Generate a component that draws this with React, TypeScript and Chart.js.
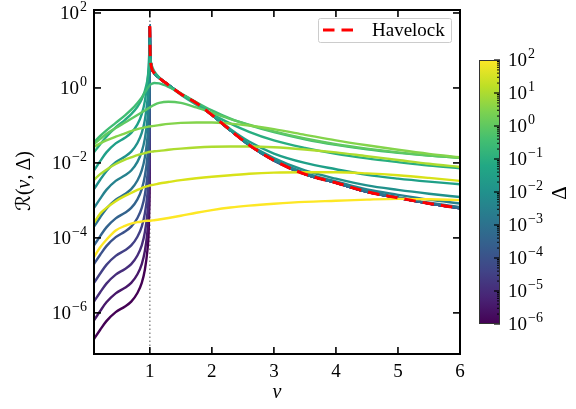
import React, { useEffect, useRef } from 'react';
import { Chart, registerables } from 'chart.js';

Chart.register(...registerables);

const W = 576;
const H = 409;

// ---------- axes ----------
const X_MIN = 0.1;
const X_MAX = 6;
const Y_MIN = 8e-8;
const Y_MAX = 1.2e2;
const X_TICKS = [1, 2, 3, 4, 5, 6];
const Y_TICK_EXPONENTS = [2, 0, -2, -4, -6];
const CB_TICK_EXPONENTS = [2, 1, 0, -1, -2, -3, -4, -5, -6];
const CB_MIN_EXP = -6;
const CB_MAX_EXP = 2;

// ---------- data ----------
const V = [0.1, 0.2, 0.3, 0.45, 0.6, 0.7, 0.8, 0.87, 0.92, 0.96, 0.98, 0.99, 0.997, 1.0, 1.003, 1.01, 1.03, 1.07, 1.15, 1.3, 1.5, 1.75, 2.0, 2.3, 2.6, 3.0, 3.5, 4.0, 4.5, 5.0, 5.5, 6.0];

// Havelock values for v >= 1
const H_TAIL = [45, 12.6, 6.03, 3.39, 2.51, 1.86, 1.2, 0.692, 0.398, 0.191, 0.0741, 0.0302, 0.0117, 5.0e-3, 2.95e-3, 1.7e-3, 1.17e-3, 8.3e-4, 6.2e-4];
const HAVELOCK = [null, null, null, null, null, null, null, null, null, null, null, null, null, ...H_TAIL];

// log10(Δ) of each curve
const DELTA_EXP = [-6, -5.5, -5, -4.5, -4, -3.5, -3, -2.5, -2, -1.5, -1, -0.5, 0, 0.5, 1, 1.5, 2];

const R_m60 = [2.0e-7, 3.55e-7, 6.03e-7, 1.05e-6, 1.48e-6, 2.0e-6, 3.39e-6, 6.31e-6, 1.41e-5, 4.47e-5, 1.26e-4, 5.01e-4, 5.0e-3, ...H_TAIL];
const R_m55 = [6.3e-7, 1.12e-6, 1.91e-6, 3.32e-6, 4.68e-6, 6.3e-6, 1.07e-5, 2.0e-5, 4.46e-5, 1.41e-4, 3.98e-4, 1.58e-3, 0.0158, ...H_TAIL];
const R_m50 = [2.0e-6, 3.55e-6, 6.03e-6, 1.05e-5, 1.48e-5, 2.0e-5, 3.39e-5, 6.31e-5, 1.41e-4, 4.47e-4, 1.26e-3, 5.01e-3, 0.05, ...H_TAIL];
const R_m45 = [6.3e-6, 1.12e-5, 1.91e-5, 3.32e-5, 4.68e-5, 6.3e-5, 1.07e-4, 2.0e-4, 4.46e-4, 1.41e-3, 3.98e-3, 0.0158, 0.158, ...H_TAIL];
const R_m40 = [2.0e-5, 3.55e-5, 6.03e-5, 1.05e-4, 1.48e-4, 2.0e-4, 3.39e-4, 6.31e-4, 1.41e-3, 4.47e-3, 0.0126, 0.0501, 0.5, ...H_TAIL];
const R_m35 = [6.3e-5, 1.12e-4, 1.91e-4, 3.32e-4, 4.68e-4, 6.3e-4, 1.07e-3, 2.0e-3, 4.46e-3, 0.0141, 0.0398, 0.158, 1.58, ...H_TAIL];
const R_m30 = [2.0e-4, 3.55e-4, 6.03e-4, 1.05e-3, 1.48e-3, 2.0e-3, 3.39e-3, 6.31e-3, 0.0141, 0.0447, 0.126, 0.501, 5.0, 45, 12.6, 6.03, 3.39, 2.51, 1.86, 1.2, 0.692, 0.398, 0.191, 0.0741, 0.0302, 0.0117, 5.0e-3, 2.97e-3, 1.73e-3, 1.21e-3, 8.7e-4, 6.6e-4];
const R_m25 = [6.3e-4, 1.12e-3, 1.91e-3, 3.32e-3, 4.68e-3, 6.3e-3, 0.0107, 0.02, 0.0446, 0.141, 0.398, 1.58, 15.8, 45, 12.6, 6.03, 3.39, 2.51, 1.86, 1.2, 0.692, 0.398, 0.191, 0.0741, 0.0302, 0.0123, 5.4e-3, 3.2e-3, 1.95e-3, 1.41e-3, 1.05e-3, 8.3e-4];
const R_m20 = [2.0e-3, 3.55e-3, 6.03e-3, 0.0105, 0.0148, 0.02, 0.0339, 0.0631, 0.141, 0.447, 1.26, 5.0, 20, 28, 12.6, 6.03, 3.39, 2.51, 1.86, 1.2, 0.692, 0.398, 0.191, 0.0741, 0.0316, 0.0135, 6.3e-3, 3.8e-3, 2.51e-3, 1.91e-3, 1.51e-3, 1.23e-3];
const R_m15 = [6.3e-3, 0.0112, 0.0191, 0.0332, 0.0468, 0.0632, 0.107, 0.2, 0.446, 1.41, 3.5, 8.0, 13, 15.8, 11.5, 6.3, 3.5, 2.55, 1.86, 1.2, 0.69, 0.4, 0.195, 0.0794, 0.0372, 0.0178, 0.01, 6.8e-3, 4.8e-3, 3.8e-3, 3.16e-3, 2.7e-3];
const R_m10 = [0.0191, 0.0316, 0.0501, 0.0891, 0.141, 0.2, 0.316, 0.501, 0.832, 1.58, 2.63, 3.8, 5.25, 6.03, 6.03, 5.5, 3.98, 2.82, 1.91, 1.15, 0.661, 0.355, 0.2, 0.112, 0.0676, 0.0398, 0.0251, 0.0174, 0.0132, 0.0105, 8.5e-3, 7.2e-3];
const R_m05 = [0.0355, 0.0525, 0.0741, 0.117, 0.186, 0.263, 0.398, 0.562, 0.759, 0.955, 1.07, 1.12, 1.17, 1.2, 1.22, 1.24, 1.29, 1.35, 1.32, 1.07, 0.724, 0.417, 0.251, 0.151, 0.102, 0.0661, 0.0427, 0.0302, 0.0229, 0.0186, 0.0158, 0.0138];
const R_p00 = [0.0316, 0.0437, 0.0589, 0.0851, 0.12, 0.151, 0.191, 0.224, 0.251, 0.275, 0.288, 0.295, 0.302, 0.302, 0.305, 0.309, 0.324, 0.355, 0.398, 0.427, 0.398, 0.302, 0.219, 0.148, 0.105, 0.0692, 0.0447, 0.0316, 0.024, 0.0191, 0.0158, 0.0138];
const R_p05 = [0.0269, 0.0331, 0.0398, 0.0501, 0.0617, 0.0708, 0.0794, 0.0851, 0.0891, 0.0912, 0.0933, 0.0933, 0.0933, 0.0933, 0.0933, 0.0944, 0.0955, 0.0977, 0.102, 0.11, 0.117, 0.12, 0.12, 0.112, 0.1, 0.0794, 0.0562, 0.0398, 0.0295, 0.0224, 0.0174, 0.0141];
const R_p10 = [3.55e-3, 5.01e-3, 6.61e-3, 9.33e-3, 0.0123, 0.0141, 0.0162, 0.0174, 0.0182, 0.0191, 0.0195, 0.0195, 0.0195, 0.02, 0.02, 0.02, 0.02, 0.0204, 0.0209, 0.0224, 0.024, 0.0257, 0.0269, 0.0275, 0.0275, 0.0263, 0.0229, 0.0191, 0.0151, 0.012, 9.5e-3, 7.8e-3];
const R_p15 = [2.51e-4, 4.47e-4, 6.31e-4, 9.55e-4, 1.32e-3, 1.58e-3, 1.91e-3, 2.14e-3, 2.29e-3, 2.4e-3, 2.45e-3, 2.51e-3, 2.51e-3, 2.51e-3, 2.51e-3, 2.51e-3, 2.57e-3, 2.63e-3, 2.82e-3, 3.09e-3, 3.47e-3, 3.89e-3, 4.27e-3, 4.68e-3, 5.13e-3, 5.5e-3, 5.62e-3, 5.62e-3, 5.25e-3, 4.68e-3, 3.98e-3, 3.31e-3];
const R_p20 = [3.09e-5, 5.62e-5, 8.91e-5, 1.58e-4, 2.09e-4, 2.4e-4, 2.63e-4, 2.75e-4, 2.82e-4, 2.88e-4, 2.88e-4, 2.88e-4, 2.88e-4, 2.88e-4, 2.88e-4, 2.88e-4, 2.92e-4, 2.95e-4, 3.09e-4, 3.39e-4, 3.89e-4, 4.68e-4, 5.5e-4, 6.46e-4, 7.24e-4, 8.13e-4, 9.12e-4, 9.77e-4, 1.05e-3, 1.1e-3, 1.07e-3, 1.02e-3];

const CURVES = [R_m60, R_m55, R_m50, R_m45, R_m40, R_m35, R_m30, R_m25, R_m20, R_m15, R_m10, R_m05, R_p00, R_p05, R_p10, R_p15, R_p20];

const VLINE_X = 1;

// ---------- styles ----------
const CURVE_COLORS = ['#440154', '#48186a', '#472d7b', '#424086', '#3b528b', '#33638d', '#2c728e', '#26828e', '#21918c', '#1fa088', '#28ae80', '#3fbc73', '#5ec962', '#84d44b', '#addc30', '#d8e219', '#fde725'];
const VIRIDIS_STOPS = ['#440154', '#482475', '#414487', '#355f8d', '#2a788e', '#21918c', '#22a884', '#44bf70', '#7ad151', '#bddf26', '#fde725'];

const SERIF = '"Liberation Serif", "DejaVu Serif", serif';
const BASE_FONT = `19px ${SERIF}`;
const SUP_FONT = `14px ${SERIF}`;

const CB = { left: 479, right: 500, top: 60, bottom: 324 };

function powLabel(ctx: CanvasRenderingContext2D, exp: number, x: number, yMid: number, align: 'left' | 'right') {
  const base = '10';
  const sup = exp < 0 ? '\u2212' + String(-exp) : String(exp);
  ctx.font = BASE_FONT;
  const wb = ctx.measureText(base).width;
  ctx.font = SUP_FONT;
  const ws = ctx.measureText(sup).width;
  const x0 = align === 'right' ? x - wb - ws - 1 : x;
  ctx.textAlign = 'left';
  ctx.textBaseline = 'alphabetic';
  ctx.fillStyle = '#000';
  ctx.font = BASE_FONT;
  ctx.fillText(base, x0, yMid + 6.3);
  ctx.font = SUP_FONT;
  ctx.fillText(sup, x0 + wb + 1, yMid + 6.3 - 8);
}

function seg(ctx: CanvasRenderingContext2D, x1: number, y1: number, x2: number, y2: number) {
  ctx.beginPath();
  ctx.moveTo(x1, y1);
  ctx.lineTo(x2, y2);
  ctx.stroke();
}

function cbY(logv: number) {
  return CB.bottom - ((logv - CB_MIN_EXP) / (CB_MAX_EXP - CB_MIN_EXP)) * (CB.bottom - CB.top);
}

const decoPlugin = {
  id: 'deco',
  afterDraw(chart: any) {
    const ctx: CanvasRenderingContext2D = chart.ctx;
    const xs = chart.scales.x;
    const ys = chart.scales.y;
    const { left, right, top, bottom } = chart.chartArea;
    ctx.save();

    // frame
    ctx.setLineDash([]);
    ctx.strokeStyle = '#000';
    ctx.lineWidth = 2;
    ctx.strokeRect(left, top, right - left, bottom - top);

    // ticks (inward, mirrored)
    ctx.lineWidth = 1.6;
    const TL = 7;
    X_TICKS.forEach((t) => {
      const px = xs.getPixelForValue(t);
      seg(ctx, px, bottom, px, bottom - TL);
      seg(ctx, px, top, px, top + TL);
    });
    Y_TICK_EXPONENTS.forEach((e) => {
      const py = ys.getPixelForValue(Math.pow(10, e));
      seg(ctx, left, py, left + TL, py);
      seg(ctx, right, py, right - TL, py);
    });

    // tick labels
    ctx.fillStyle = '#000';
    ctx.font = BASE_FONT;
    ctx.textAlign = 'center';
    ctx.textBaseline = 'alphabetic';
    X_TICKS.forEach((t) => {
      ctx.fillText(String(t), xs.getPixelForValue(t), 377);
    });
    Y_TICK_EXPONENTS.forEach((e) => {
      powLabel(ctx, e, 87, ys.getPixelForValue(Math.pow(10, e)), 'right');
    });

    // axis titles
    ctx.font = `italic 20px ${SERIF}`;
    ctx.textAlign = 'center';
    ctx.fillText('v', (left + right) / 2, 398);

    ctx.save();
    ctx.translate(25, 181);
    ctx.rotate(-Math.PI / 2);
    const runs: [string, string][] = [
      ['\u211B', `20px "DejaVu Serif", "DejaVu Sans", serif`],
      ['(', `20px ${SERIF}`],
      ['v', `italic 20px ${SERIF}`],
      [',\u2009', `20px ${SERIF}`],
      ['\u0394', `20px ${SERIF}`],
      [')', `20px ${SERIF}`],
    ];
    let total = 0;
    const widths = runs.map(([t, f]) => {
      ctx.font = f;
      const w = ctx.measureText(t).width;
      total += w;
      return w;
    });
    let cx = -total / 2;
    ctx.textAlign = 'left';
    runs.forEach(([t, f], i) => {
      ctx.font = f;
      ctx.fillText(t, cx, 5);
      cx += widths[i];
    });
    ctx.restore();

    // legend
    ctx.beginPath();
    const lx = 318.5, ly = 18.5, lw = 133, lh = 24;
    if ((ctx as any).roundRect) (ctx as any).roundRect(lx, ly, lw, lh, 2);
    else ctx.rect(lx, ly, lw, lh);
    ctx.fillStyle = 'rgba(255,255,255,0.8)';
    ctx.fill();
    ctx.strokeStyle = '#cccccc';
    ctx.lineWidth = 1;
    ctx.stroke();
    ctx.strokeStyle = '#ff0000';
    ctx.lineWidth = 3;
    ctx.setLineDash([11.5, 7]);
    seg(ctx, 323, 30, 356, 30);
    ctx.setLineDash([]);
    ctx.fillStyle = '#000';
    ctx.font = BASE_FONT;
    ctx.textAlign = 'left';
    ctx.fillText('Havelock', 372, 35.5);

    // colorbar
    const grad = ctx.createLinearGradient(0, CB.bottom, 0, CB.top);
    VIRIDIS_STOPS.forEach((c, i) => grad.addColorStop(i / (VIRIDIS_STOPS.length - 1), c));
    ctx.fillStyle = grad;
    ctx.fillRect(CB.left, CB.top, CB.right - CB.left, CB.bottom - CB.top);
    ctx.strokeStyle = '#000';
    ctx.lineWidth = 1;
    for (let e = CB_MIN_EXP; e < CB_MAX_EXP; e++) {
      for (let m = 2; m <= 9; m++) {
        const py = cbY(e + Math.log10(m));
        seg(ctx, CB.right, py, CB.right - 3, py);
      }
    }
    ctx.lineWidth = 1.2;
    CB_TICK_EXPONENTS.forEach((e) => {
      const py = cbY(e);
      seg(ctx, CB.right, py, CB.right - 6, py);
      powLabel(ctx, e, 508, py, 'left');
    });
    ctx.strokeStyle = '#333';
    ctx.lineWidth = 1;
    ctx.strokeRect(CB.left + 0.5, CB.top + 0.5, CB.right - CB.left - 1, CB.bottom - CB.top - 1);

    ctx.save();
    ctx.translate(559, 193);
    ctx.rotate(-Math.PI / 2);
    ctx.fillStyle = '#000';
    ctx.font = `21px ${SERIF}`;
    ctx.textAlign = 'center';
    ctx.textBaseline = 'alphabetic';
    ctx.fillText('\u0394', 0, 7);
    ctx.restore();

    ctx.restore();
  },
};

export default function App() {
  const ref = useRef<HTMLCanvasElement>(null);
  useEffect(() => {
    const canvas = ref.current;
    if (!canvas) return;
    const datasets: any[] = [];
    datasets.push({
      label: 'v = 1',
      data: [{ x: VLINE_X, y: Y_MIN }, { x: VLINE_X, y: Y_MAX }],
      borderColor: '#8c8c8c',
      borderWidth: 1.5,
      borderDash: [1.5, 2.5],
      pointRadius: 0,
      order: 100,
    });
    CURVES.forEach((arr, i) => {
      datasets.push({
        label: `log10 Δ = ${DELTA_EXP[i]}`,
        data: V.map((v, j) => ({ x: v, y: arr[j] })),
        borderColor: CURVE_COLORS[i],
        borderWidth: 2.4,
        pointRadius: 0,
        cubicInterpolationMode: 'monotone',
        order: 50 - i,
      });
    });
    datasets.push({
      label: 'Havelock',
      data: V.map((v, j) => ({ x: v, y: HAVELOCK[j] })),
      borderColor: '#ff0000',
      borderWidth: 3,
      borderDash: [11.5, 7],
      pointRadius: 0,
      cubicInterpolationMode: 'monotone',
      spanGaps: false,
      order: 0,
    });

    const chart = new Chart(canvas, {
      type: 'line',
      data: { datasets },
      options: {
        responsive: false,
        animation: false,
        devicePixelRatio: 1,
        events: [],
        layout: { padding: { left: 94, right: 116, top: 10, bottom: 55 } },
        plugins: { legend: { display: false }, tooltip: { enabled: false } },
        scales: {
          x: { type: 'linear', min: X_MIN, max: X_MAX, display: false },
          y: { type: 'logarithmic', min: Y_MIN, max: Y_MAX, display: false },
        },
      },
      plugins: [decoPlugin],
    } as any);
    return () => chart.destroy();
  }, []);

  return (
    <div style={{ position: 'fixed', left: 0, top: 0, width: W, height: H, background: '#fff' }}>
      <canvas ref={ref} width={W} height={H} style={{ display: 'block', width: W, height: H }} />
    </div>
  );
}
